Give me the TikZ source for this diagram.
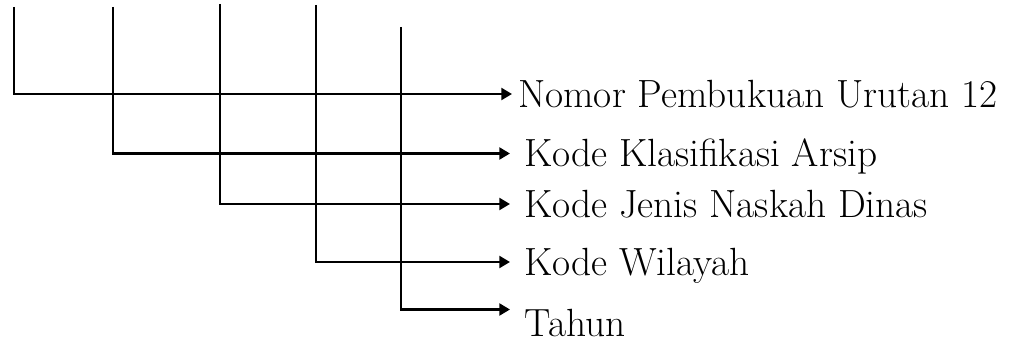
\documentclass[tikz,border=0pt]{standalone}
\usetikzlibrary{positioning,arrows.meta}
\tikzset{
  feed/.style={line width=1.6pt,-{Triangle[length=8pt,width=9pt]}},
  field/.style={inner ysep=0pt,inner xsep=11pt,text height=20pt,text depth=0pt,
    font=\fontsize{29.5}{34}\selectfont},
}
\begin{document}
\begin{tikzpicture}[x=0.75pt,y=-0.75pt]
  \useasboundingbox (0,0) rectangle (1011,338);
  % tops of the stems
  \coordinate (s1) at (14,7);
  \coordinate (s2) at (113,7);
  \coordinate (s3) at (220,4);
  \coordinate (s4) at (316,5);
  \coordinate (s5) at (401,27);
  % labels
  \node[field,anchor=west,inner xsep=4.5pt] (nomor) at (512,94) {Nomor Pembukuan Urutan 12};
  \node[field,anchor=west] (klas) at (510,153.5) {Kode Klasifikasi Arsip};
  \node[field,anchor=west] (jenis) at (510,204) {Kode Jenis Naskah Dinas};
  \node[field,anchor=west] (wil) at (510,262) {Kode Wilayah};
  \node[field,anchor=north west] (tahun) at (510,309.5) {Tahun};
  % connectors
  \draw[feed] (s1) |- (nomor.west);
  \draw[feed] (s2) |- (klas.west);
  \draw[feed] (s3) |- (jenis.west);
  \draw[feed] (s4) |- (wil.west);
  \draw[feed] (s5) |- (tahun.north west);
\end{tikzpicture}
\end{document}
